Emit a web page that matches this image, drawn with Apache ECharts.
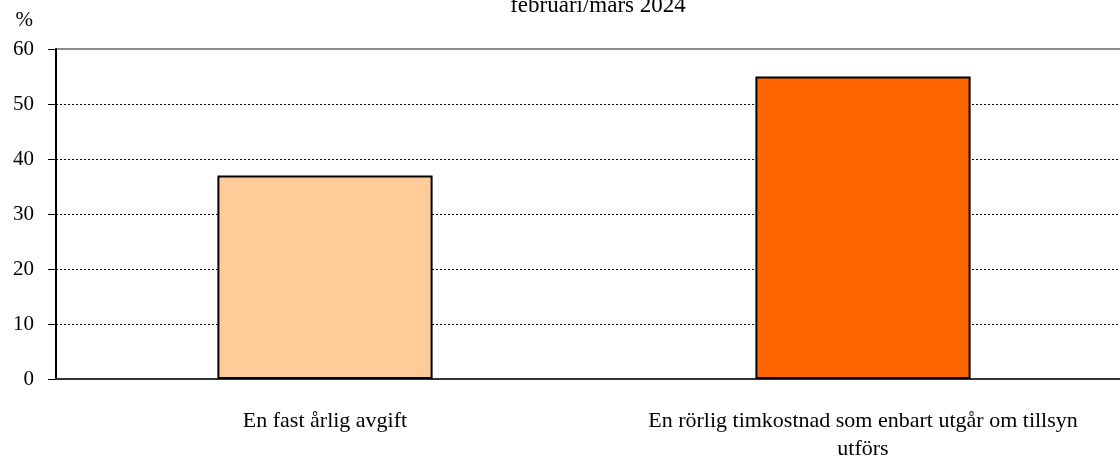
<!DOCTYPE html>
<html>
<head>
<meta charset="utf-8">
<script src="https://cdn.jsdelivr.net/npm/echarts@6/dist/echarts.min.js"></script>
<style>
  html, body { margin: 0; padding: 0; background: #fff; }
  #chart { width: 1120px; height: 456px; }
</style>
</head>
<body>
<div id="chart"></div>
<script>
var categories = ['En fast årlig avgift', 'En rörlig timkostnad som enbart utgår om tillsyn\nutförs'];
var values = [37, 55];
var barColors = ['#FFCC99', '#FF6600'];
var yTicks = [0, 10, 20, 30, 40, 50, 60];

var myChart = echarts.init(document.getElementById('chart'));
var serif = '"Liberation Serif", "Times New Roman", serif';

var option = {
    backgroundColor: '#fff',
    animation: false,
    title: {
        text: 'februari/mars 2024',
        left: 593,
        textAlign: 'center',
        top: -11,
        textStyle: { fontFamily: serif, fontSize: 23, fontWeight: 'normal', color: '#000' }
    },
    grid: {
        left: 56,
        width: 1076,
        top: 49,
        bottom: 77,
        show: true,
        borderColor: '#8c8c8c',
        borderWidth: 2,
        containLabel: false,
        outerBoundsMode: 'none'
    },
    xAxis: {
        type: 'category',
        data: categories,
        axisLine: { lineStyle: { color: '#333', width: 2 } },
        axisTick: { length: 8, lineStyle: { color: '#333', width: 2 } },
        axisLabel: {
            color: '#000', fontFamily: serif, fontSize: 22,
            margin: 28, lineHeight: 28, interval: 0
        }
    },
    yAxis: {
        type: 'value',
        min: yTicks[0],
        max: yTicks[yTicks.length - 1],
        interval: 10,
        name: '%',
        nameLocation: 'end',
        nameGap: 18,
        nameTextStyle: { color: '#000', fontFamily: serif, fontSize: 21, align: 'right', padding: [0, 23, 0, 0] },
        axisLine: { show: true, lineStyle: { color: '#000', width: 2 } },
        axisTick: { show: true, length: 8, inside: false, lineStyle: { color: '#000', width: 1 } },
        axisLabel: { color: '#000', fontFamily: serif, fontSize: 21, margin: 22 },
        splitLine: { show: true, showMaxLine: false, lineStyle: { color: '#000', type: [2, 2], width: 1 } }
    },
    series: [{
        type: 'bar',
        barWidth: '40%',
        data: values.map(function (v, i) {
            return { value: v, itemStyle: { color: barColors[i] } };
        }),
        itemStyle: { borderColor: '#000', borderWidth: 2 }
    }]
};

myChart.setOption(option);
</script>
</body>
</html>
